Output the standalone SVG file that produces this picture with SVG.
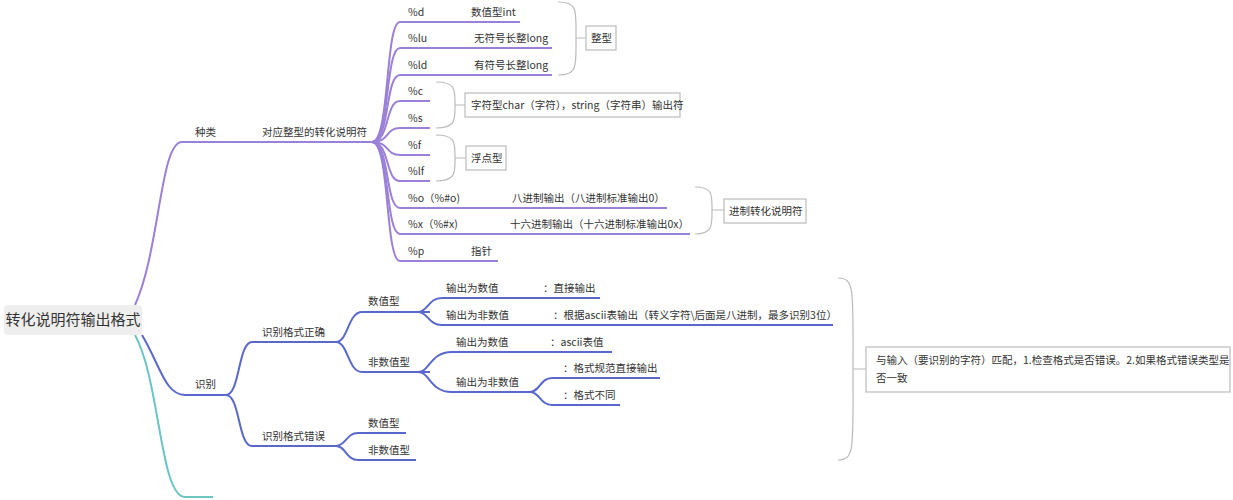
<svg xmlns="http://www.w3.org/2000/svg" width="1233" height="500" viewBox="0 0 1233 500">
<style>
text{font-family:"Noto Sans CJK SC","Noto Sans",sans-serif;font-size:10.5px;fill:#333}
.p{fill:none;stroke:#9b80d8;stroke-width:2}
.b{fill:none;stroke:#5a68cc;stroke-width:2}
.t{fill:none;stroke:#6cc5c2;stroke-width:2}
.br{fill:none;stroke:#bbb;stroke-width:1.2}
.bx{fill:#fff;stroke:#bbb;stroke-width:1.2}
</style>
<rect width="1233" height="500" fill="#fff"/>
<g id="connectors">
<path class="p" d="M135,305 C160,250 160,142 182,142 H372"/>
<path class="p" d="M372,142 C390,142 385,22 400,22 H520"/>
<path class="p" d="M372,142 C390,142 385,48 400,48 H552"/>
<path class="p" d="M372,142 C390,142 385,75 400,75 H552"/>
<path class="p" d="M372,142 C390,142 385,101 400,101 H430"/>
<path class="p" d="M372,142 C390,142 385,128 400,128 H430"/>
<path class="p" d="M372,142 C390,142 385,155 400,155 H430"/>
<path class="p" d="M372,142 C390,142 385,181 400,181 H430"/>
<path class="p" d="M372,142 C390,142 385,208 400,208 H667"/>
<path class="p" d="M372,142 C390,142 385,234 400,234 H690"/>
<path class="p" d="M372,142 C390,142 385,261 400,261 H498"/>
<path class="b" d="M142,335 C160,365 165,395 185,395 H226"/>
<path class="b" d="M226,395 C240,395 238,342 252,342 H336"/>
<path class="b" d="M226,395 C240,395 238,446 252,446 H336"/>
<path class="b" d="M336,342 C348,342 348,312 362,312 H430"/>
<path class="b" d="M336,342 C348,342 348,372 362,372 H430"/>
<path class="b" d="M418,312 C428,312 428,298 442,298 H600"/>
<path class="b" d="M418,312 C428,312 428,325 442,325 H833"/>
<path class="b" d="M418,372 C430,372 430,352 452,352 H612"/>
<path class="b" d="M418,372 C430,372 430,392 452,392 H530"/>
<path class="b" d="M530,392 C540,392 540,378 552,378 H660"/>
<path class="b" d="M530,392 C540,392 540,405 552,405 H620"/>
<path class="b" d="M336,446 C346,446 346,433 358,433 H406"/>
<path class="b" d="M336,446 C346,446 346,460 358,460 H416"/>
<path class="t" d="M135,335 C160,380 160,497 185,497 H213"/>
</g>
<g id="root"><rect x="4" y="305" width="138" height="30" rx="4" fill="#eeeeee"/><text x="73" y="325" text-anchor="middle" style="font-size:15px">转化说明符输出格式</text></g>
<g id="n-zhonglei"><text x="195" y="136">种类</text><text x="262" y="136">对应整型的转化说明符</text></g>
<g id="leaves">
<text x="408" y="16">%d</text><text x="471" y="16">数值型int</text>
<text x="408" y="42">%lu</text><text x="474" y="42">无符号长整long</text>
<text x="408" y="69">%ld</text><text x="474" y="69">有符号长整long</text>
<text x="408" y="95">%c</text>
<text x="408" y="122">%s</text>
<text x="408" y="149">%f</text>
<text x="408" y="175">%lf</text>
<text x="408" y="202">%o（%#o)</text><text x="512" y="202">八进制输出（八进制标准输出0）</text>
<text x="408" y="228">%x（%#x)</text><text x="510" y="228">十六进制输出（十六进制标准输出0x）</text>
<text x="408" y="255">%p</text><text x="471" y="255">指针</text>
</g>
<g id="n-zhengxing"><path class="br" d="M558,2 C578,2 576,10 576,38 C576,66 578,75 558,75 M576,38 H586"/><rect class="bx" x="586" y="26" width="30" height="24"/><text x="591" y="42">整型</text></g>
<g id="n-char"><path class="br" d="M436,82 C456,82 455,90 455,105 C455,120 456,128 436,128 M455,105 H465"/><rect class="bx" x="465" y="93" width="215" height="24"/><text x="471" y="109">字符型char（字符），string（字符串）输出符</text></g>
<g id="n-float"><path class="br" d="M436,135 C456,135 455,143 455,158 C455,173 456,181 436,181 M455,158 H466"/><rect class="bx" x="466" y="146" width="40" height="24"/><text x="471" y="162">浮点型</text></g>
<g id="n-jinzhi"><path class="br" d="M695,187 C713,187 712,195 712,210 C712,225 713,234 695,234 M712,210 H724"/><rect class="bx" x="724" y="199" width="82" height="24"/><text x="729" y="215">进制转化说明符</text></g>
<g id="n-shibie">
<text x="195" y="388">识别</text>
<text x="262" y="336">识别格式正确</text>
<text x="262" y="440">识别格式错误</text>
<text x="368" y="305">数值型</text>
<text x="368" y="366">非数值型</text>
<text x="446" y="292">输出为数值</text><text x="543" y="292">：直接输出</text>
<text x="446" y="319">输出为非数值</text><text x="553" y="319">：根据ascii表输出（转义字符\后面是八进制，最多识别3位）</text>
<text x="456" y="346">输出为数值</text><text x="550" y="346">：ascii表值</text>
<text x="456" y="386">输出为非数值</text>
<text x="563" y="372">：格式规范直接输出</text>
<text x="563" y="399">：格式不同</text>
<text x="368" y="427">数值型</text>
<text x="368" y="454">非数值型</text>
</g>
<g id="n-summary"><path class="br" d="M838,278 C855,278 853,290 853,369 C853,448 855,460 838,460 M853,369 H866"/><rect class="bx" x="866" y="347" width="364" height="45"/><text x="876" y="364">与输入（要识别的字符）匹配，1.检查格式是否错误。2.如果格式错误类型是</text><text x="876" y="382">否一致</text></g>
</svg>
